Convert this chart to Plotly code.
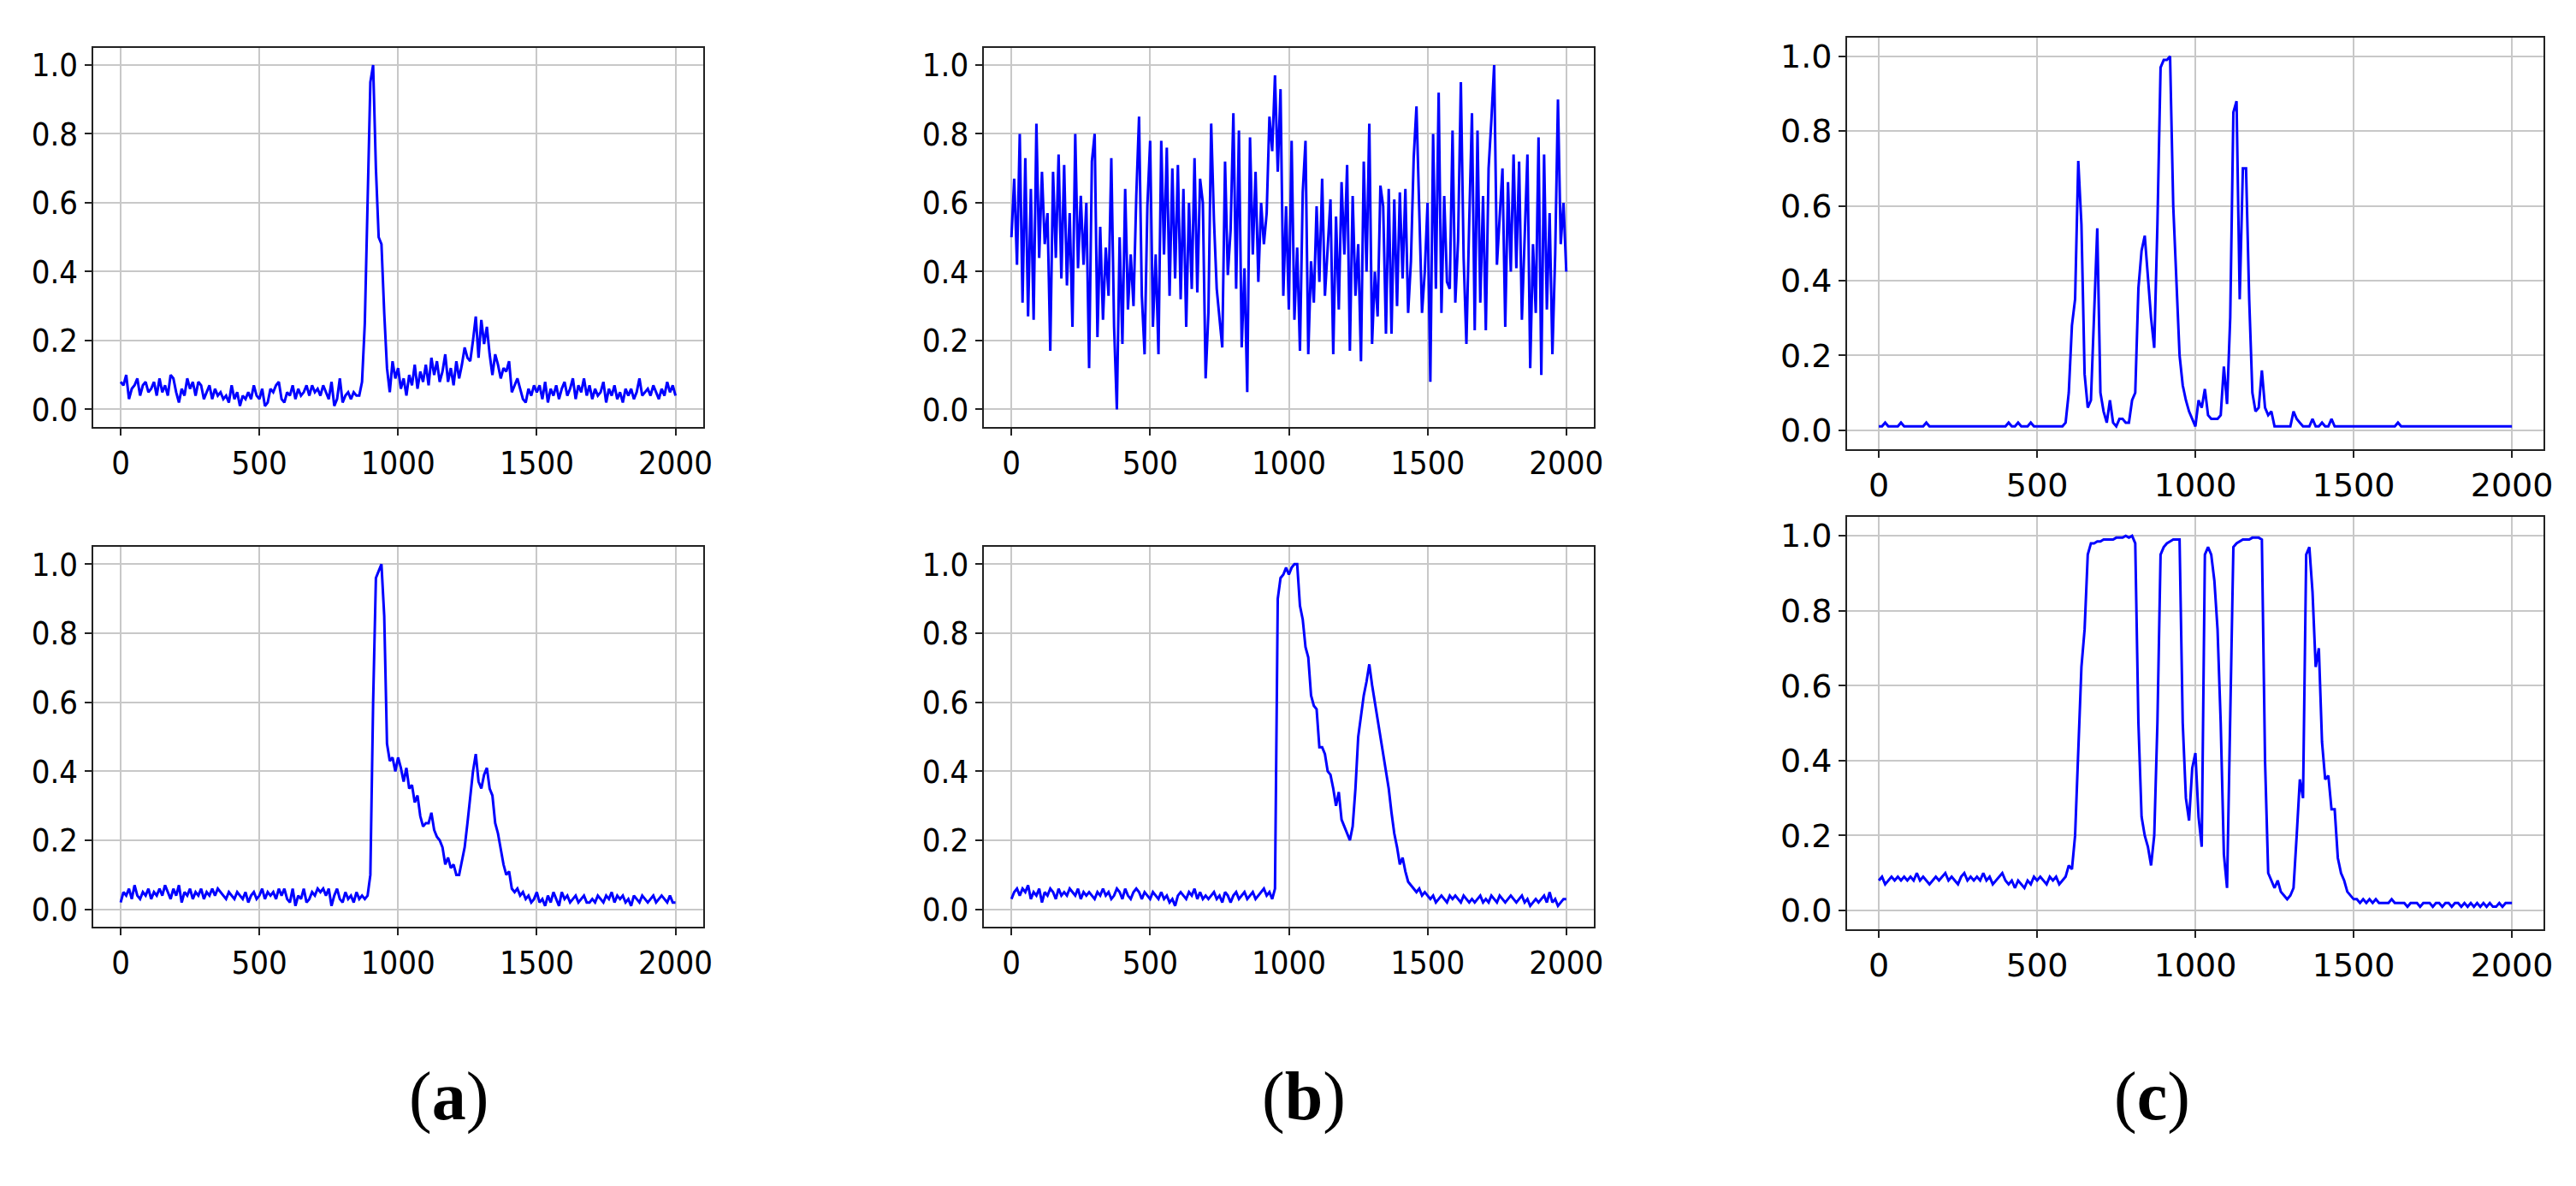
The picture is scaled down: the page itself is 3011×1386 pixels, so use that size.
import plotly.graph_objects as go

# samples every 10 units, 0..2000
x_vals = list(range(0, 2001, 10))

a_top = [0.08, 0.07, 0.10, 0.03, 0.06, 0.07, 0.09, 0.04, 0.07, 0.08,
         0.05, 0.06, 0.08, 0.04, 0.09, 0.05, 0.07, 0.04, 0.10, 0.09,
         0.05, 0.02, 0.06, 0.04, 0.09, 0.06, 0.08, 0.04, 0.08, 0.07,
         0.03, 0.05, 0.07, 0.03, 0.06, 0.04, 0.05, 0.03, 0.04, 0.02,
         0.07, 0.03, 0.05, 0.01, 0.04, 0.03, 0.05, 0.03, 0.07, 0.04,
         0.03, 0.06, 0.01, 0.02, 0.06, 0.05, 0.07, 0.08, 0.03, 0.02,
         0.05, 0.04, 0.07, 0.03, 0.06, 0.04, 0.05, 0.07, 0.04, 0.07,
         0.05, 0.06, 0.04, 0.07, 0.05, 0.03, 0.08, 0.01, 0.03, 0.09,
         0.02, 0.04, 0.05, 0.03, 0.05, 0.04, 0.04, 0.08, 0.25, 0.62,
         0.95, 1.00, 0.70, 0.50, 0.48, 0.28, 0.12, 0.05, 0.14, 0.09,
         0.12, 0.06, 0.09, 0.04, 0.10, 0.07, 0.13, 0.06, 0.11, 0.08,
         0.13, 0.07, 0.15, 0.10, 0.14, 0.08, 0.11, 0.16, 0.08, 0.12,
         0.07, 0.14, 0.09, 0.13, 0.18, 0.15, 0.14, 0.20, 0.27, 0.15,
         0.26, 0.19, 0.24, 0.16, 0.10, 0.16, 0.13, 0.09, 0.12, 0.11,
         0.14, 0.05, 0.07, 0.09, 0.06, 0.03, 0.02, 0.06, 0.04, 0.07,
         0.05, 0.07, 0.03, 0.08, 0.02, 0.06, 0.04, 0.07, 0.03, 0.06,
         0.08, 0.04, 0.06, 0.09, 0.03, 0.07, 0.05, 0.09, 0.04, 0.07,
         0.03, 0.06, 0.04, 0.05, 0.08, 0.02, 0.06, 0.04, 0.07, 0.03,
         0.05, 0.02, 0.06, 0.04, 0.06, 0.03, 0.05, 0.09, 0.04, 0.05,
         0.06, 0.04, 0.07, 0.05, 0.03, 0.06, 0.04, 0.08, 0.05, 0.07,
         0.04]

a_bottom = [0.02, 0.05, 0.04, 0.06, 0.03, 0.07, 0.04, 0.03, 0.05, 0.04,
            0.06, 0.03, 0.05, 0.04, 0.06, 0.04, 0.07, 0.05, 0.03, 0.06,
            0.04, 0.07, 0.02, 0.05, 0.04, 0.06, 0.03, 0.05, 0.04, 0.06,
            0.03, 0.05, 0.04, 0.06, 0.04, 0.06, 0.05, 0.04, 0.03, 0.05,
            0.04, 0.03, 0.05, 0.04, 0.03, 0.05, 0.02, 0.04, 0.05, 0.03,
            0.04, 0.06, 0.03, 0.05, 0.04, 0.05, 0.03, 0.06, 0.04, 0.06,
            0.03, 0.02, 0.06, 0.01, 0.04, 0.03, 0.06, 0.02, 0.03, 0.05,
            0.04, 0.06, 0.05, 0.06, 0.04, 0.06, 0.01, 0.04, 0.06, 0.03,
            0.02, 0.05, 0.03, 0.04, 0.02, 0.05, 0.03, 0.04, 0.03, 0.04,
            0.10, 0.60, 0.96, 0.98, 1.00, 0.85, 0.48, 0.43, 0.44, 0.40,
            0.44, 0.41, 0.37, 0.41, 0.35, 0.36, 0.31, 0.33, 0.27, 0.24,
            0.25, 0.25, 0.28, 0.23, 0.21, 0.20, 0.18, 0.13, 0.15, 0.12,
            0.13, 0.10, 0.10, 0.14, 0.18, 0.25, 0.33, 0.40, 0.45, 0.37,
            0.35, 0.39, 0.41, 0.35, 0.33, 0.25, 0.22, 0.17, 0.13, 0.10,
            0.11, 0.06, 0.05, 0.06, 0.04, 0.05, 0.03, 0.04, 0.02, 0.03,
            0.05, 0.02, 0.03, 0.01, 0.04, 0.02, 0.05, 0.03, 0.01, 0.05,
            0.03, 0.04, 0.02, 0.03, 0.04, 0.02, 0.03, 0.04, 0.02, 0.02,
            0.03, 0.02, 0.04, 0.03, 0.02, 0.04, 0.03, 0.05, 0.02, 0.04,
            0.03, 0.04, 0.02, 0.03, 0.01, 0.04, 0.03, 0.02, 0.04, 0.03,
            0.02, 0.03, 0.04, 0.02, 0.03, 0.04, 0.03, 0.02, 0.04, 0.02,
            0.02]

b_top = [0.50, 0.67, 0.42, 0.80, 0.31, 0.73, 0.27, 0.64, 0.26, 0.83,
         0.44, 0.69, 0.48, 0.57, 0.17, 0.69, 0.44, 0.74, 0.38, 0.71,
         0.36, 0.57, 0.24, 0.80, 0.41, 0.62, 0.42, 0.60, 0.12, 0.72,
         0.80, 0.21, 0.53, 0.26, 0.47, 0.33, 0.73, 0.24, 0.00, 0.50,
         0.19, 0.64, 0.29, 0.45, 0.30, 0.62, 0.85, 0.33, 0.16, 0.59,
         0.78, 0.24, 0.45, 0.16, 0.78, 0.45, 0.76, 0.33, 0.70, 0.38,
         0.71, 0.32, 0.64, 0.24, 0.60, 0.35, 0.73, 0.34, 0.67, 0.60,
         0.09, 0.28, 0.83, 0.55, 0.35, 0.26, 0.18, 0.72, 0.39, 0.52,
         0.86, 0.35, 0.81, 0.18, 0.41, 0.05, 0.79, 0.45, 0.69, 0.37,
         0.60, 0.48, 0.57, 0.85, 0.75, 0.97, 0.69, 0.93, 0.33, 0.59,
         0.29, 0.78, 0.26, 0.47, 0.17, 0.63, 0.78, 0.16, 0.43, 0.31,
         0.59, 0.37, 0.67, 0.33, 0.47, 0.61, 0.16, 0.56, 0.29, 0.66,
         0.45, 0.71, 0.17, 0.62, 0.33, 0.48, 0.14, 0.72, 0.40, 0.83,
         0.19, 0.40, 0.27, 0.65, 0.59, 0.22, 0.64, 0.22, 0.61, 0.30,
         0.63, 0.38, 0.64, 0.28, 0.43, 0.73, 0.88, 0.60, 0.28, 0.40,
         0.60, 0.08, 0.80, 0.35, 0.92, 0.28, 0.62, 0.37, 0.35, 0.81,
         0.31, 0.49, 0.95, 0.44, 0.19, 0.54, 0.86, 0.23, 0.81, 0.31,
         0.62, 0.23, 0.70, 0.84, 1.00, 0.42, 0.55, 0.70, 0.24, 0.66,
         0.40, 0.74, 0.41, 0.72, 0.26, 0.53, 0.74, 0.12, 0.48, 0.28,
         0.79, 0.10, 0.74, 0.29, 0.57, 0.16, 0.45, 0.90, 0.48, 0.60,
         0.40]

b_bottom = [0.03, 0.05, 0.06, 0.04, 0.06, 0.05, 0.07, 0.03, 0.05, 0.04,
            0.06, 0.02, 0.05, 0.04, 0.06, 0.05, 0.03, 0.06, 0.04, 0.05,
            0.04, 0.06, 0.05, 0.04, 0.06, 0.03, 0.05, 0.04, 0.05, 0.04,
            0.03, 0.05, 0.04, 0.06, 0.04, 0.05, 0.03, 0.04, 0.06, 0.05,
            0.03, 0.06, 0.04, 0.03, 0.05, 0.06, 0.05, 0.03, 0.05, 0.04,
            0.03, 0.05, 0.04, 0.03, 0.05, 0.03, 0.04, 0.02, 0.03, 0.01,
            0.04, 0.05, 0.04, 0.03, 0.05, 0.04, 0.06, 0.03, 0.05, 0.03,
            0.04, 0.03, 0.04, 0.05, 0.03, 0.04, 0.02, 0.05, 0.04, 0.02,
            0.04, 0.05, 0.03, 0.04, 0.05, 0.03, 0.04, 0.05, 0.03, 0.04,
            0.05, 0.06, 0.04, 0.05, 0.03, 0.06, 0.90, 0.96, 0.97, 0.99,
            0.97, 0.99, 1.00, 1.00, 0.88, 0.84, 0.76, 0.73, 0.62, 0.59,
            0.58, 0.47, 0.47, 0.45, 0.40, 0.39, 0.35, 0.30, 0.34, 0.26,
            0.24, 0.22, 0.20, 0.24, 0.35, 0.50, 0.56, 0.62, 0.66, 0.71,
            0.65, 0.60, 0.55, 0.50, 0.45, 0.40, 0.35, 0.28, 0.22, 0.18,
            0.13, 0.15, 0.11, 0.08, 0.07, 0.06, 0.05, 0.06, 0.04, 0.05,
            0.04, 0.03, 0.04, 0.02, 0.03, 0.04, 0.03, 0.02, 0.04, 0.03,
            0.04, 0.03, 0.02, 0.04, 0.03, 0.02, 0.03, 0.02, 0.03, 0.04,
            0.02, 0.03, 0.02, 0.04, 0.03, 0.02, 0.04, 0.03, 0.02, 0.03,
            0.04, 0.03, 0.02, 0.03, 0.04, 0.02, 0.03, 0.01, 0.02, 0.03,
            0.02, 0.03, 0.04, 0.02, 0.05, 0.02, 0.03, 0.01, 0.02, 0.03,
            0.03]

c_top = [0.01, 0.01, 0.02, 0.01, 0.01, 0.01, 0.01, 0.02, 0.01, 0.01,
         0.01, 0.01, 0.01, 0.01, 0.01, 0.02, 0.01, 0.01, 0.01, 0.01,
         0.01, 0.01, 0.01, 0.01, 0.01, 0.01, 0.01, 0.01, 0.01, 0.01,
         0.01, 0.01, 0.01, 0.01, 0.01, 0.01, 0.01, 0.01, 0.01, 0.01,
         0.01, 0.02, 0.01, 0.01, 0.02, 0.01, 0.01, 0.01, 0.02, 0.01,
         0.01, 0.01, 0.01, 0.01, 0.01, 0.01, 0.01, 0.01, 0.01, 0.02,
         0.10, 0.28, 0.35, 0.72, 0.55, 0.15, 0.06, 0.08, 0.30, 0.54,
         0.10, 0.05, 0.02, 0.08, 0.02, 0.01, 0.03, 0.03, 0.02, 0.02,
         0.08, 0.10, 0.38, 0.48, 0.52, 0.40, 0.30, 0.22, 0.55, 0.97,
         0.99, 0.99, 1.00, 0.60, 0.40, 0.20, 0.12, 0.08, 0.05, 0.03,
         0.01, 0.08, 0.06, 0.11, 0.04, 0.03, 0.03, 0.03, 0.04, 0.17,
         0.07, 0.30, 0.85, 0.88, 0.35, 0.70, 0.70, 0.35, 0.10, 0.05,
         0.06, 0.16, 0.06, 0.04, 0.05, 0.01, 0.01, 0.01, 0.01, 0.01,
         0.01, 0.05, 0.03, 0.02, 0.01, 0.01, 0.01, 0.03, 0.01, 0.01,
         0.02, 0.01, 0.01, 0.03, 0.01, 0.01, 0.01, 0.01, 0.01, 0.01,
         0.01, 0.01, 0.01, 0.01, 0.01, 0.01, 0.01, 0.01, 0.01, 0.01,
         0.01, 0.01, 0.01, 0.01, 0.02, 0.01, 0.01, 0.01, 0.01, 0.01,
         0.01, 0.01, 0.01, 0.01, 0.01, 0.01, 0.01, 0.01, 0.01, 0.01,
         0.01, 0.01, 0.01, 0.01, 0.01, 0.01, 0.01, 0.01, 0.01, 0.01,
         0.01, 0.01, 0.01, 0.01, 0.01, 0.01, 0.01, 0.01, 0.01, 0.01,
         0.01]

c_bottom = [0.08, 0.09, 0.07, 0.08, 0.09, 0.08, 0.09, 0.08, 0.09, 0.08,
            0.09, 0.08, 0.10, 0.08, 0.09, 0.08, 0.07, 0.08, 0.09, 0.08,
            0.09, 0.10, 0.08, 0.09, 0.08, 0.07, 0.09, 0.10, 0.08, 0.09,
            0.08, 0.09, 0.08, 0.10, 0.08, 0.09, 0.07, 0.08, 0.09, 0.10,
            0.08, 0.07, 0.08, 0.06, 0.08, 0.07, 0.06, 0.08, 0.07, 0.09,
            0.08, 0.09, 0.08, 0.07, 0.09, 0.08, 0.09, 0.07, 0.08, 0.09,
            0.12, 0.11, 0.20, 0.45, 0.65, 0.75, 0.95, 0.98, 0.98, 0.985,
            0.985, 0.99, 0.99, 0.99, 0.99, 0.995, 0.995, 0.995, 1.00, 0.995,
            1.00, 0.98, 0.50, 0.25, 0.20, 0.17, 0.12, 0.20, 0.50, 0.95,
            0.97, 0.98, 0.985, 0.99, 0.99, 0.99, 0.50, 0.30, 0.24, 0.38,
            0.42, 0.25, 0.17, 0.95, 0.97, 0.95, 0.88, 0.75, 0.50, 0.15,
            0.06, 0.50, 0.97, 0.98, 0.985, 0.99, 0.99, 0.99, 0.995, 0.995,
            0.995, 0.99, 0.40, 0.10, 0.08, 0.06, 0.08, 0.05, 0.04, 0.03,
            0.04, 0.06, 0.20, 0.35, 0.30, 0.95, 0.97, 0.85, 0.65, 0.70,
            0.45, 0.35, 0.36, 0.27, 0.27, 0.14, 0.10, 0.08, 0.05, 0.04,
            0.03, 0.03, 0.02, 0.03, 0.02, 0.03, 0.02, 0.03, 0.02, 0.02,
            0.02, 0.02, 0.03, 0.02, 0.02, 0.02, 0.02, 0.01, 0.02, 0.02,
            0.02, 0.01, 0.02, 0.02, 0.02, 0.01, 0.02, 0.02, 0.01, 0.02,
            0.02, 0.01, 0.02, 0.02, 0.01, 0.02, 0.01, 0.02, 0.01, 0.02,
            0.01, 0.02, 0.01, 0.02, 0.01, 0.01, 0.02, 0.01, 0.02, 0.02,
            0.02]

x_ticks = [0, 500, 1000, 1500, 2000]
y_ticks = [0.0, 0.2, 0.4, 0.6, 0.8, 1.0]
y_tick_text = ["0.0", "0.2", "0.4", "0.6", "0.8", "1.0"]
panel_labels = ["a", "b", "c"]

W, H = 3011, 1386
narrow = "DejaVu Sans Condensed, DejaVu Sans"

# (series, x-pixel span, y-pixel span, font, font size)
panels = [
    (a_top, (101, 817), (46, 490), narrow, 38),
    (a_bottom, (101, 817), (631, 1076), narrow, 38),
    (b_top, (1146, 1862), (46, 490), narrow, 38),
    (b_bottom, (1146, 1862), (631, 1076), narrow, 38),
    (c_top, (2159, 2976), (34, 516), "DejaVu Sans", 38),
    (c_bottom, (2159, 2976), (596, 1079), "DejaVu Sans", 38),
]

fig = go.Figure()
layout = {}
for i, (ys, (x0, x1), (y0, y1), fam, fsize) in enumerate(panels, start=1):
    sfx = "" if i == 1 else str(i)
    fig.add_trace(go.Scatter(x=x_vals, y=ys, mode="lines",
                             line=dict(color="#0000ff", width=3),
                             xaxis="x" + sfx, yaxis="y" + sfx,
                             showlegend=False))
    common = dict(showline=True, linecolor="#222", linewidth=2, mirror=True,
                  showgrid=True, gridcolor="#c8c8c8", gridwidth=1.5,
                  zeroline=False, ticks="outside", ticklen=8, tickwidth=1.5,
                  tickcolor="#222", tickfont=dict(family=fam, size=fsize, color="black"))
    layout["xaxis" + sfx] = dict(domain=[x0 / W, x1 / W], range=[-100, 2100],
                                 tickvals=x_ticks, anchor="y" + sfx, **common)
    layout["yaxis" + sfx] = dict(domain=[1 - y1 / H, 1 - y0 / H], range=[-0.05, 1.05],
                                 tickvals=y_ticks, ticktext=y_tick_text,
                                 anchor="x" + sfx, **common)

annotations = []
for lbl, cx in zip(panel_labels, [470, 1522, 2563]):
    annotations.append(dict(x=cx / W, y=1 - 1275 / H, xref="paper", yref="paper",
                            yanchor="middle", text="(<b>" + lbl + "</b>)", showarrow=False,
                            font=dict(family="Liberation Serif", size=80, color="black")))

fig.update_layout(width=W, height=H, margin=dict(l=0, r=0, t=0, b=0),
                  plot_bgcolor="white", paper_bgcolor="white",
                  annotations=annotations, **layout)

fig.write_html("out.html")
